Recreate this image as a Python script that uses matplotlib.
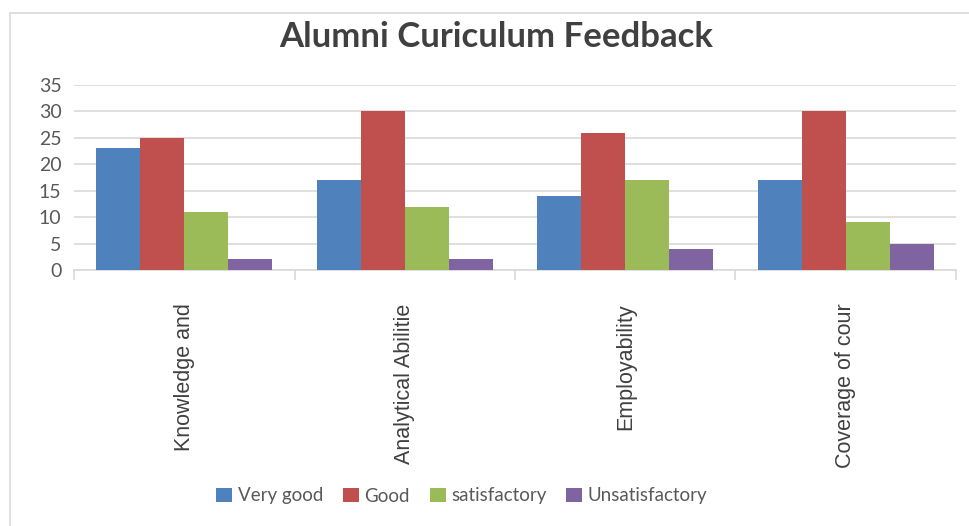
import matplotlib
matplotlib.use("Agg")
import matplotlib.pyplot as plt
from matplotlib.patches import Rectangle
import numpy as np

# data
categories = ["Knowledge and", "Analytical Abilitie", "Employability", "Coverage of cour"]
series_names = ["Very good", "Good", "satisfactory", "Unsatisfactory"]
very_good = [23, 17, 14, 17]
good = [25, 30, 26, 30]
satisfactory = [11, 12, 17, 9]
unsatisfactory = [2, 2, 4, 5]
yticks = [0, 5, 10, 15, 20, 25, 30, 35]

colors = ["#4F81BD", "#C0504D", "#9BBB59", "#8064A2"]
grid_c = "#D9D9D9"
text_c = "#595959"

W, H = 969, 526
fig = plt.figure(figsize=(W / 100, H / 100), dpi=100)

# chart frame (only left and top edges visible in the screenshot)
fig.patches.append(Rectangle((10 / W, -0.1), 1.2, 1.1 - 13 / H, transform=fig.transFigure,
                             fill=False, edgecolor=grid_c, linewidth=1.2))

ax = fig.add_axes([74 / W, 1 - 270 / H, (956 - 74) / W, (270 - 85) / H])

x = np.arange(len(categories))
width = 0.2
values = [very_good, good, satisfactory, unsatisfactory]
for i, (name, vals) in enumerate(zip(series_names, values)):
    ax.bar(x + (i - 1.5) * width, vals, width, color=colors[i], label=name, zorder=3)

ax.set_xlim(-0.5, len(categories) - 0.5)
ax.set_ylim(0, 35)
ax.set_yticks(yticks)
ax.yaxis.grid(True, color=grid_c, linewidth=1.2, zorder=0)
for s in ["top", "right", "left"]:
    ax.spines[s].set_visible(False)
ax.spines["bottom"].set_color(grid_c)
ax.spines["bottom"].set_linewidth(1.2)

ax.tick_params(axis="y", length=0, pad=9, labelsize=14, labelcolor=text_c)
for lab in ax.get_yticklabels():
    lab.set_family("Lato")

ax.set_xticks(x)
ax.set_xticklabels(categories, rotation=90, family="Liberation Sans", fontsize=15.5, color="#404040")
ax.tick_params(axis="x", which="major", length=0, pad=24)
ax.set_xticks(np.arange(-0.5, len(categories)), minor=True)
ax.tick_params(axis="x", which="minor", length=7, color=grid_c, width=1.2)

fig.text(496 / W, 1 - 37 / H, "Alumni Curiculum Feedback", ha="center", va="center",
         fontsize=25, fontweight="bold", family="Lato", color="#404040")

leg = fig.legend(loc="center", bbox_to_anchor=(462 / W, 1 - 496 / H), ncol=4, frameon=False,
                 prop={"family": "Lato", "size": 13.5}, handlelength=0.85, handleheight=0.85,
                 handletextpad=0.3, columnspacing=1.05)
for t in leg.get_texts():
    t.set_color(text_c)

fig.savefig("out.png", dpi=100)
